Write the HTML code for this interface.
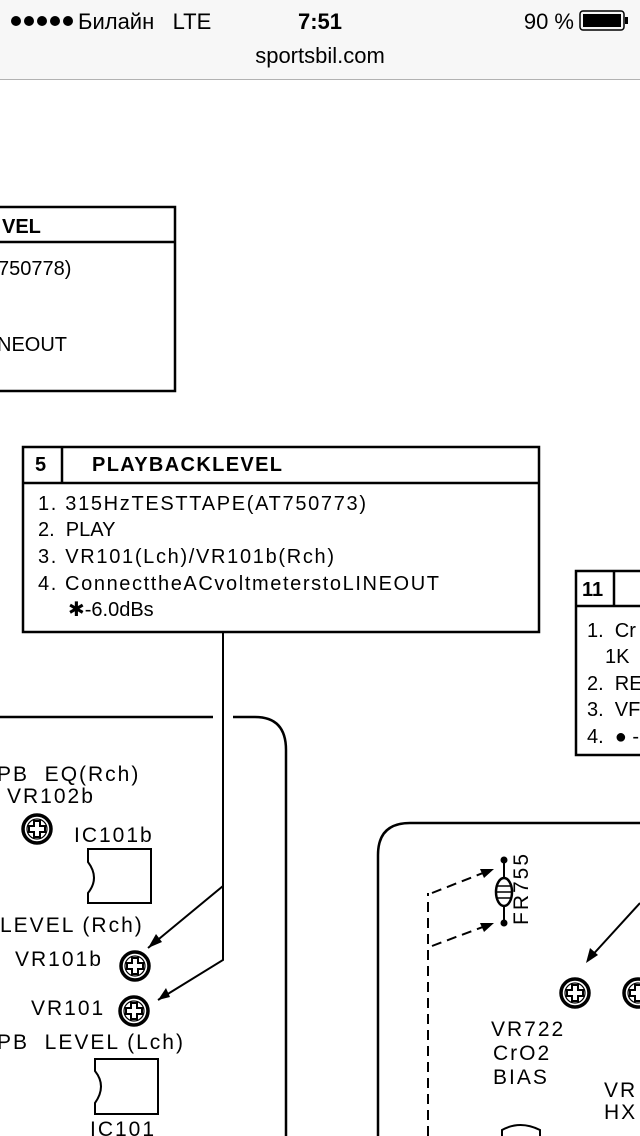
<!DOCTYPE html>
<html><head><meta charset="utf-8"><style>
html,body{margin:0;padding:0;background:#fff;width:640px;height:1136px;overflow:hidden}
svg{display:block}
.s{font-family:"Liberation Sans",sans-serif}
</style></head><body>
<svg width="640" height="1136" viewBox="0 0 640 1136" xmlns="http://www.w3.org/2000/svg">
<defs>
<g id="tr">
<circle cx="0" cy="0" r="14" fill="#fff" stroke="#000" stroke-width="3.5"/>
<circle cx="0" cy="0" r="10" fill="none" stroke="#000" stroke-width="1.2"/>
<path d="M-3,-8 H3 V-3 H8 V3 H3 V8 H-3 V3 H-8 V-3 H-3 Z" fill="#fff" stroke="#000" stroke-width="2"/>
</g>
</defs>
<rect x="0" y="0" width="640" height="79" fill="#f7f7f7"/>
<line x1="0" y1="79.5" x2="640" y2="79.5" stroke="#b2b2b2" stroke-width="1"/>
<g fill="#000">
<circle cx="16" cy="21" r="5"/><circle cx="29" cy="21" r="5"/><circle cx="42" cy="21" r="5"/><circle cx="55" cy="21" r="5"/><circle cx="68" cy="21" r="5"/>
</g>
<text x="78" y="29" class="s" font-size="22" fill="#000" xml:space="preserve">Билайн   LTE</text>
<text x="320" y="29" class="s" font-size="22" font-weight="bold" text-anchor="middle">7:51</text>
<text x="574" y="29" class="s" font-size="22" text-anchor="end">90 %</text>
<rect x="580" y="11" width="44" height="19" rx="3" fill="none" stroke="#000" stroke-width="1.5"/>
<rect x="583" y="14" width="38" height="13" fill="#000"/>
<rect x="625" y="17" width="3" height="7" fill="#000"/>
<text x="320" y="63" class="s" font-size="22" text-anchor="middle">sportsbil.com</text>

<g fill="none" stroke="#000" stroke-width="2.5">
<path d="M-5,207 H175 V391 H-5"/>
<line x1="-5" y1="242" x2="175" y2="242"/>
<rect x="23" y="447" width="516" height="185"/>
<line x1="23" y1="483" x2="539" y2="483"/>
<line x1="62" y1="447" x2="62" y2="483"/>
<path d="M645,571 H576 V755 H645"/>
<line x1="576" y1="606" x2="645" y2="606"/>
<line x1="614" y1="571" x2="614" y2="606"/>
<path d="M223,632 V960 L158,1000" stroke-width="2"/>
<path d="M223,886 L148,948" stroke-width="2"/>
<path d="M-5,717 H213"/>
<path d="M233,717 H255 Q286,717 286,750 V1140"/>
<path d="M645,823 H410 Q378,823 378,855 V1140"/>
<path d="M88,849 H151 V903 H88 V893 Q100,878 88,862 Z" stroke-width="2"/>
<path d="M95,1059 H158 V1114 H95 V1103 Q107,1086 95,1071 Z" stroke-width="2"/>
<path d="M502,1136 V1130 Q520,1120 540,1130 V1136" stroke-width="2"/>
<path d="M640,903 L588,960" stroke-width="2"/>
<g stroke-width="2" stroke-dasharray="10,6">
<path d="M428,1136 V893"/>
<path d="M432,893 L488,871"/>
<path d="M432,946 L488,925"/>
</g>
<path d="M504,858 V925" stroke-width="2"/>
</g>
<g fill="#000">
<path d="M148,948 L156,934 L162,942 Z"/>
<path d="M158,1000 L166,988 L170,997 Z"/>
<path d="M586,963 L590,948 L598,955 Z"/>
<path d="M494,869 L480,869 L484,878 Z"/>
<path d="M494,923 L480,923 L484,932 Z"/>
<circle cx="504" cy="860" r="3.5"/><circle cx="504" cy="923" r="3.5"/>
</g>
<ellipse cx="504" cy="892" rx="8" ry="14" fill="#fff" stroke="#000" stroke-width="2.5"/>
<path d="M497,886 H511 M497,892 H511 M497,898 H511" stroke="#000" stroke-width="1.5"/>
<use href="#tr" x="37" y="829"/>
<use href="#tr" x="135" y="966"/>
<use href="#tr" x="134" y="1011"/>
<use href="#tr" x="575" y="993"/>
<use href="#tr" x="638" y="993"/>

<g class="s" font-size="20" fill="#000">
<text x="2" y="233" font-weight="bold">VEL</text>
<text x="-2" y="275">750778)</text>
<text x="-3" y="351">NEOUT</text>
<text x="35" y="471" font-weight="bold">5</text>
<text x="92" y="471" font-weight="bold" textLength="190">PLAYBACKLEVEL</text>
<text x="38" y="510" textLength="328">1.  315HzTESTTAPE(AT750773)</text>
<text x="38" y="536" xml:space="preserve">2.  PLAY</text>
<text x="38" y="563" textLength="296">3.  VR101(Lch)/VR101b(Rch)</text>
<text x="38" y="590" textLength="401">4.  ConnecttheACvoltmeterstoLINEOUT</text>
<text x="68" y="616">✱-6.0dBs</text>
<text x="582" y="596" font-weight="bold">11</text>
<text x="587" y="637" xml:space="preserve">1.  Cr</text>
<text x="605" y="663">1K</text>
<text x="587" y="690" xml:space="preserve">2.  RE</text>
<text x="587" y="716" xml:space="preserve">3.  VF</text>
<text x="587" y="743" xml:space="preserve">4.  ● -</text>
</g>
<g class="s" font-size="21" fill="#000" letter-spacing="2">
<text x="-3" y="781" xml:space="preserve">PB  EQ(Rch)</text>
<text x="7" y="803">VR102b</text>
<text x="74" y="842">IC101b</text>
<text x="0" y="932">LEVEL (Rch)</text>
<text x="15" y="966">VR101b</text>
<text x="31" y="1015">VR101</text>
<text x="-3" y="1049" xml:space="preserve">PB  LEVEL (Lch)</text>
<text x="90" y="1136">IC101</text>
<text x="491" y="1036">VR722</text>
<text x="493" y="1060">CrO2</text>
<text x="493" y="1084">BIAS</text>
<text x="604" y="1097">VR</text>
<text x="604" y="1119">HX</text>
<text transform="translate(528,925) rotate(-90)">FR755</text>
</g>
</svg>
</body></html>
